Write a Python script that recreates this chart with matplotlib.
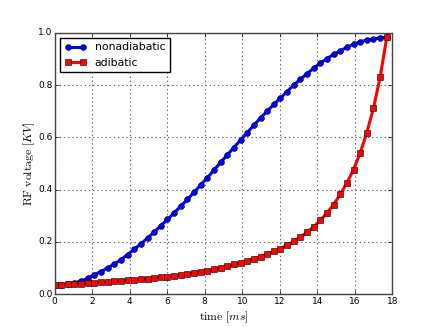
import numpy as np
import matplotlib
matplotlib.use("Agg")
import matplotlib.pyplot as plt

# time axis in ms (51 samples)
time_ms = np.linspace(0, 17.7, 51)

# RF voltage in KV
nonadiabatic = [0.035, 0.036, 0.039, 0.044, 0.051, 0.061, 0.075, 0.087, 0.101, 0.116,
                0.132, 0.152, 0.172, 0.193, 0.215, 0.238, 0.262, 0.286, 0.311, 0.337,
                0.363, 0.390, 0.418, 0.446, 0.475, 0.504, 0.533, 0.561, 0.590, 0.618,
                0.646, 0.674, 0.700, 0.726, 0.750, 0.775, 0.800, 0.822, 0.844, 0.864,
                0.884, 0.901, 0.917, 0.931, 0.944, 0.956, 0.965, 0.972, 0.977, 0.980,
                0.982]
adibatic = [0.036, 0.037, 0.038, 0.040, 0.041, 0.043, 0.044, 0.046, 0.048, 0.050,
            0.052, 0.054, 0.056, 0.058, 0.060, 0.063, 0.065, 0.067, 0.070, 0.074,
            0.078, 0.082, 0.086, 0.090, 0.095, 0.100, 0.107, 0.114, 0.121, 0.128,
            0.136, 0.144, 0.154, 0.164, 0.175, 0.187, 0.203, 0.219, 0.238, 0.258,
            0.283, 0.311, 0.343, 0.382, 0.426, 0.477, 0.540, 0.618, 0.712, 0.830,
            0.983]

plt.style.use("classic")
plt.rcParams["mathtext.fontset"] = "cm"
plt.rcParams["font.size"] = 6.5

fig = plt.figure(figsize=(4.36, 3.27), dpi=100, facecolor="white")
ax = fig.add_subplot(111)

ax.plot(time_ms, nonadiabatic, "b-o", lw=2.2, ms=4.2, mew=0.4, mec="k", label="nonadiabatic")
ax.plot(time_ms, adibatic, "r-s", lw=2.2, ms=3.8, mew=0.4, mec="k", label="adibatic")

ax.set_xlim(0, 18)
ax.set_ylim(0, 1.0)
ax.set_xlabel(r"$\mathrm{time}\ [ms]$", fontsize=8.5, labelpad=2)
ax.set_ylabel(r"$\mathrm{RF\ voltage}\ [KV]$", fontsize=8.5, labelpad=1)
ax.tick_params(labelsize=6.5, length=3)
ax.tick_params(axis="y", pad=1.5)
ax.tick_params(axis="x", pad=2.2)
ax.grid(True, color="#666666", linestyle=(0, (1, 2)), linewidth=0.8)
ax.set_axisbelow(True)
for s in ax.spines.values():
    s.set_color("#444444")

ax.legend(loc="upper left", fontsize=7.8, numpoints=2)

fig.savefig("out.png", dpi=100, facecolor="white")
